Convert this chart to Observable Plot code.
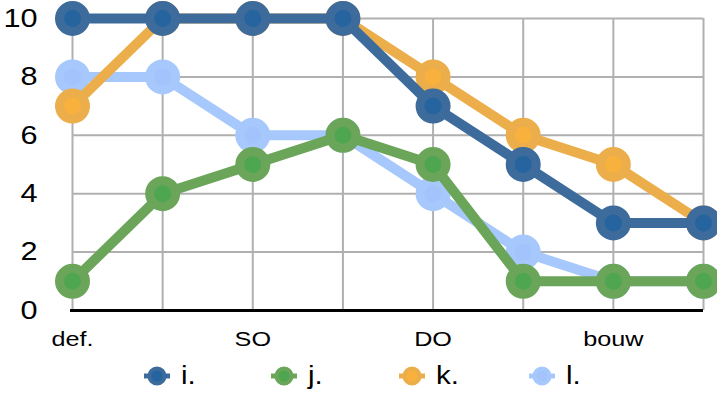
<!DOCTYPE html>
<html>
<head>
<meta charset="utf-8">
<script src="https://cdn.jsdelivr.net/npm/d3@7"></script>
<script src="https://cdn.jsdelivr.net/npm/@observablehq/plot@0.6"></script>
<style>
  html, body { margin: 0; padding: 0; background: #fff; }
  #chart { width: 717px; }
  #chart svg g[aria-label="y-axis tick label"] { font-size: 26px; }
  #chart svg g[aria-label="x-axis tick label"] { font-size: 21px; }
  #legend { position: relative; width: 717px; height: 41px; font-family: "Liberation Sans", Arial, sans-serif; font-size: 25px; color: #000; }
  .item { position: absolute; top: 0; height: 41px; display: flex; align-items: center; }
  .item svg { display: block; }
  .item span { margin-left: 11px; display: inline-block; transform: scaleX(1.18); transform-origin: left center; }
</style>
</head>
<body>
<div id="chart"></div>
<div id="legend"></div>
<script>
// ---- data ----
const stageIndex = [0, 1, 2, 3, 4, 5, 6, 7];
const tickPositions = [0, 2, 4, 6];
const tickLabels = ["def.", "SO", "DO", "bouw"];
const yTicks = [0, 2, 4, 6, 8, 10];
const seriesNames = ["i.", "j.", "k.", "l."];
const valuesI = [10, 10, 10, 10, 7, 5, 3, 3];
const valuesJ = [1, 4, 5, 6, 5, 1, 1, 1];
const valuesK = [7, 10, 10, 10, 8, 6, 5, 3];
const valuesL = [8, 8, 6, 6, 4, 2, 1, 1];
const lineColors = { "i.": "#3c6b9c", "j.": "#6aa55a", "k.": "#ecae4b", "l.": "#a7c8fc" };
const fillColors = { "i.": "#25649f", "j.": "#4fa650", "k.": "#f8b13c", "l.": "#a2c3fb" };

const seriesValues = { "i.": valuesI, "j.": valuesJ, "k.": valuesK, "l.": valuesL };
const drawOrder = ["l.", "k.", "j.", "i."];

const seriesMarks = drawOrder.flatMap(name => {
  const rows = stageIndex.map((s, k) => ({ s, v: seriesValues[name][k] }));
  return [
    Plot.line(rows, { x: "s", y: "v", stroke: lineColors[name], strokeWidth: 10, strokeLinejoin: "round", strokeLinecap: "round" }),
    Plot.dot(rows, { x: "s", y: "v", r: 13, fill: fillColors[name], stroke: lineColors[name], strokeWidth: 9 })
  ];
});

const chart = Plot.plot({
  width: 717,
  height: 355,
  marginTop: 18,
  marginBottom: 45,
  marginLeft: 72,
  marginRight: 14,
  style: { fontFamily: "Liberation Sans, Arial, sans-serif", color: "#000", background: "#fff" },
  x: { domain: [0, 7], label: null },
  y: { domain: [0, 10], label: null },
  marks: [
    Plot.ruleY(yTicks.filter(t => t > 0), { x1: 0, x2: 7, stroke: "#b0b0b0", strokeWidth: 2 }),
    Plot.ruleX(stageIndex, { y1: 0, y2: 10, stroke: "#b0b0b0", strokeWidth: 2 }),
    Plot.ruleY([0], { x1: 0, x2: 7, stroke: "#000", strokeWidth: 3, insetLeft: -2 }),
    Plot.axisY({ ticks: yTicks, tickSize: 0, tickPadding: 35, fontSize: 26, label: null }),
    Plot.axisX({ ticks: tickPositions, tickFormat: d => tickLabels[tickPositions.indexOf(d)], tickSize: 0, tickPadding: 21, fontSize: 21, label: null }),
    ...seriesMarks
  ]
});

// widen the axis text slightly (the reference face is wider than Arial)
function widen(selector, factor) {
  chart.querySelectorAll(selector).forEach(t => {
    let tr = t.getAttribute("transform");
    if (!tr) {
      const x = +(t.getAttribute("x") || 0), y = +(t.getAttribute("y") || 0);
      t.removeAttribute("x"); t.removeAttribute("y");
      tr = `translate(${x},${y})`;
    }
    t.setAttribute("transform", tr + ` scale(${factor},1)`);
  });
}
widen('g[aria-label="y-axis tick label"] text', 1.18);
widen('g[aria-label="x-axis tick label"] text', 1.2);
document.getElementById("chart").appendChild(chart);

// ---- legend ----
const legendX = [144, 271, 399, 529];
const legend = document.getElementById("legend");
seriesNames.forEach((name, k) => {
  const item = document.createElement("div");
  item.className = "item";
  item.style.left = legendX[k] + "px";
  item.innerHTML = `<svg width="26" height="24" viewBox="0 0 26 24">
    <line x1="0" y1="12" x2="26" y2="12" stroke="${lineColors[name]}" stroke-width="5"/>
    <circle cx="13" cy="12" r="7.5" fill="${fillColors[name]}" stroke="${lineColors[name]}" stroke-width="4"/>
  </svg><span>${name}</span>`;
  legend.appendChild(item);
});
</script>
</body>
</html>
